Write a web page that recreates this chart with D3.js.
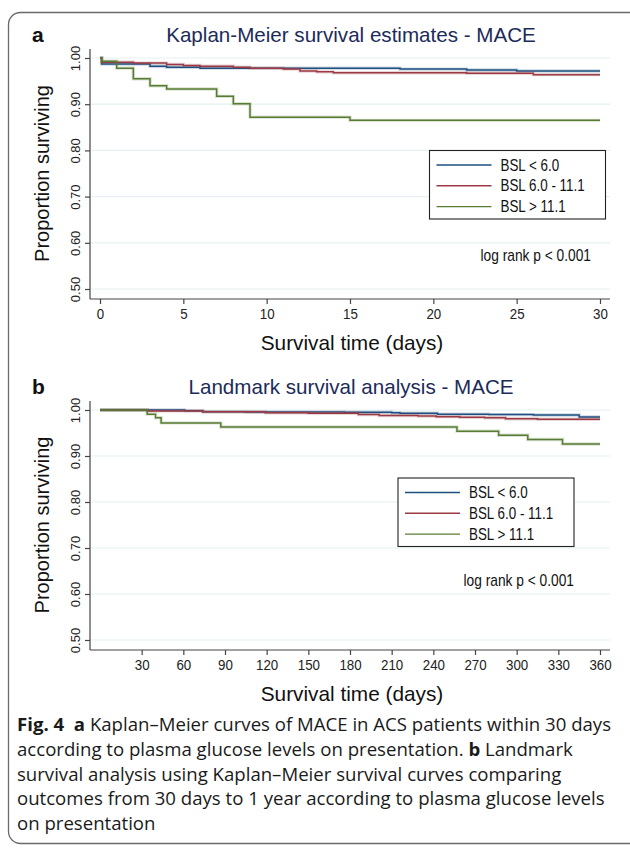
<!DOCTYPE html>
<html><head><meta charset="utf-8">
<script src="https://cdn.jsdelivr.net/npm/d3@7"></script>
<style>body{margin:0;background:#fff} svg{display:block}</style>
</head><body><svg id="c" width="630" height="852"></svg>
<script>
// ---------- data ----------
const seriesNames = ["BSL < 6.0", "BSL 6.0 - 11.1", "BSL > 11.1"];
const seriesColors = ["#1d4f80", "#9b3a44", "#587c34"];
const yTicks = [0.5, 0.6, 0.7, 0.8, 0.9, 1.0];
const xTicksA = [0, 5, 10, 15, 20, 25, 30];
const xTicksB = [30, 60, 90, 120, 150, 180, 210, 240, 270, 300, 330, 360];

// Panel a: Kaplan-Meier, 0-30 days (step times and survival after each step)
const aBlueT  = [0, 0.1, 3, 4, 6, 18, 22, 25];
const aBlueS  = [1.0, 0.987, 0.982, 0.980, 0.978, 0.976, 0.974, 0.972];
const aRedT   = [0, 0.1, 2, 4, 5, 6, 8, 9, 11, 12, 13, 14, 22, 26];
const aRedS   = [1.0, 0.991, 0.989, 0.986, 0.984, 0.982, 0.980, 0.978, 0.976, 0.972, 0.970, 0.968, 0.967, 0.964];
const aGreenT = [0, 0.1, 1, 2, 3, 4, 7, 8, 9, 15];
const aGreenS = [1.0, 0.993, 0.978, 0.955, 0.940, 0.933, 0.917, 0.901, 0.872, 0.865];
const aEnd = 30;

// Panel b: landmark analysis, 30-360 days
const bBlueT  = [0, 61, 74, 105, 176, 210, 216, 243, 280, 312, 345];
const bBlueS  = [1.0, 0.9986, 0.9964, 0.9957, 0.995, 0.994, 0.993, 0.991, 0.990, 0.989, 0.985];
const bRedT   = [0, 34, 74, 119, 150, 186, 201, 229, 242, 259, 277, 292, 315];
const bRedS   = [1.0, 0.998, 0.996, 0.994, 0.993, 0.990, 0.988, 0.987, 0.9855, 0.984, 0.983, 0.981, 0.980];
const bGreenT = [0, 34, 40, 44, 87, 257, 287, 308, 333];
const bGreenS = [1.0, 0.991, 0.983, 0.972, 0.963, 0.954, 0.945, 0.936, 0.926];
const bEnd = 360;

const titles = ["Kaplan-Meier survival estimates - MACE", "Landmark survival analysis - MACE"];
const panelLetters = ["a", "b"];
const xTitle = "Survival time (days)";
const yTitle = "Proportion surviving";
const pText = "log rank p < 0.001";

// ---------- drawing ----------
const svg = d3.select("#c");
svg.append("rect").attr("x", 8.5).attr("y", 12.5).attr("width", 640).attr("height", 831)
  .attr("rx", 12).attr("fill", "none").attr("stroke", "#6a6a6a").attr("stroke-width", 1.3);

const FONT = "'Liberation Sans', Arial, Helvetica, sans-serif";
const SQ = 0.86; // horizontal squeeze of the small chart text

function panel(cfg) {
  const g = svg.append("g");
  const x = d3.scaleLinear().domain(cfg.xDomain).range([100, 600]);
  const y = d3.scaleLinear().domain([0.5, 1.0]).range([cfg.y050, cfg.y100]);
  const axisY = cfg.y050 + 10;

  // grid
  g.selectAll(".grid").data(yTicks).enter().append("line")
    .attr("x1", 91).attr("x2", 610).attr("y1", d => y(d)).attr("y2", d => y(d))
    .attr("stroke", "#e6eff1").attr("stroke-width", 1.2);

  // y axis
  const ya = g.append("g").attr("transform", "translate(90,0)")
    .call(d3.axisLeft(y).tickValues(yTicks).tickFormat(d3.format(".2f")).tickSize(5).tickPadding(4));
  ya.select(".domain").remove();
  g.append("line").attr("x1", 90).attr("x2", 90).attr("y1", cfg.y100 - 9).attr("y2", axisY)
    .attr("stroke", "#444").attr("stroke-width", 1.2);
  ya.selectAll(".tick line").attr("stroke", "#444").attr("stroke-width", 1.2);
  ya.selectAll(".tick text").attr("transform", "rotate(-90)").attr("x", 0).attr("y", -10)
    .attr("dy", 0).attr("text-anchor", "middle")
    .attr("font-family", FONT).attr("font-size", 13).attr("fill", "#222");

  // x axis
  const xa = g.append("g").attr("transform", `translate(0,${axisY})`)
    .call(d3.axisBottom(x).tickValues(cfg.xTicks).tickFormat(d3.format("d")).tickSize(5).tickPadding(4));
  xa.select(".domain").remove();
  g.append("line").attr("x1", 90).attr("x2", 610).attr("y1", axisY).attr("y2", axisY)
    .attr("stroke", "#444").attr("stroke-width", 1.2);
  xa.selectAll(".tick line").attr("stroke", "#444").attr("stroke-width", 1.2);
  xa.selectAll(".tick text").attr("font-family", FONT).attr("font-size", 15.5).attr("fill", "#222")
    .attr("transform", `scale(${SQ},1)`);

  // titles
  g.append("text").attr("x", 32).attr("y", cfg.y100 - 16).text(cfg.letter)
    .attr("font-family", FONT).attr("font-weight", "bold").attr("font-size", 21).attr("fill", "#111");
  g.append("text").attr("x", 351).attr("y", cfg.y100 - 16).attr("text-anchor", "middle").text(cfg.title)
    .attr("font-family", FONT).attr("font-size", 20.6).attr("fill", "#1c2b5a");
  g.append("text").attr("x", 352).attr("y", axisY + 51).attr("text-anchor", "middle").text(xTitle)
    .attr("font-family", FONT).attr("font-size", 20.8).attr("fill", "#111");
  g.append("text").attr("transform", `translate(49,${(cfg.y100 + cfg.y050) / 2}) rotate(-90)`)
    .attr("text-anchor", "middle").text(yTitle)
    .attr("font-family", FONT).attr("font-size", 20).attr("fill", "#111");

  // curves
  const line = d3.line().x(d => x(d[0])).y(d => y(d[1])).curve(d3.curveStepAfter);
  cfg.series.forEach((s, i) => {
    const pts = s.t.map((t, k) => [t, s.s[k]]);
    pts.push([cfg.end, s.s[s.s.length - 1]]);
    g.append("path").datum(pts).attr("d", line).attr("fill", "none")
      .attr("stroke", seriesColors[i]).attr("stroke-opacity", 0.22).attr("stroke-width", 3.4);
    g.append("path").datum(pts).attr("d", line).attr("fill", "none")
      .attr("stroke", seriesColors[i]).attr("stroke-width", 1.5);
  });

  // legend
  const L = cfg.legend;
  g.append("rect").attr("x", L.x).attr("y", L.y).attr("width", 176).attr("height", 68.5)
    .attr("fill", "#fff").attr("stroke", "#222").attr("stroke-width", 1.1);
  seriesNames.forEach((n, i) => {
    const ry = L.y + 14.5 + i * 20.8;
    g.append("line").attr("x1", L.x + 7).attr("x2", L.x + 62).attr("y1", ry).attr("y2", ry)
      .attr("stroke", seriesColors[i]).attr("stroke-width", 1.4);
    g.append("text").attr("transform", `translate(${L.x + 71},${ry + 5.5}) scale(${SQ},1)`).text(n)
      .attr("font-family", FONT).attr("font-size", 15.6).attr("fill", "#111");
  });
  g.append("text").attr("transform", `translate(${L.px},${L.py}) scale(${SQ},1)`)
    .attr("text-anchor", "end").text(pText)
    .attr("font-family", FONT).attr("font-size", 16).attr("fill", "#111");
}

panel({
  letter: panelLetters[0], title: titles[0], xDomain: [0, 30], xTicks: xTicksA,
  y100: 58, y050: 289, end: aEnd,
  series: [{t: aBlueT, s: aBlueS}, {t: aRedT, s: aRedS}, {t: aGreenT, s: aGreenS}],
  legend: {x: 429.5, y: 150.5, px: 591, py: 260.5}
});
panel({
  letter: panelLetters[1], title: titles[1], xDomain: [0, 360], xTicks: xTicksB,
  y100: 410, y050: 640, end: bEnd,
  series: [{t: bBlueT, s: bBlueS}, {t: bRedT, s: bRedS}, {t: bGreenT, s: bGreenS}],
  legend: {x: 398, y: 478, px: 574, py: 585.5}
});

// caption
const captionLines = [
  [["Fig. 4", true], ["  ", false], ["a", true], [" Kaplan–Meier curves of MACE in ACS patients within 30 days", false]],
  [["according to plasma glucose levels on presentation. ", false], ["b", true], [" Landmark", false]],
  [["survival analysis using Kaplan–Meier survival curves comparing", false]],
  [["outcomes from 30 days to 1 year according to plasma glucose levels", false]],
  [["on presentation", false]]
];
const cap = svg.append("text").attr("font-family", "'Open Sans', 'Noto Sans', sans-serif")
  .attr("font-size", 18.6).attr("fill", "#1a1a1a").attr("xml:space", "preserve");
captionLines.forEach((ln, i) => {
  ln.forEach((seg, j) => {
    const ts = cap.append("tspan").text(seg[0]).attr("font-weight", seg[1] ? "bold" : "normal");
    if (j === 0) ts.attr("x", 17).attr("y", 731 + i * 24.8);
  });
});
</script>
</body></html>
